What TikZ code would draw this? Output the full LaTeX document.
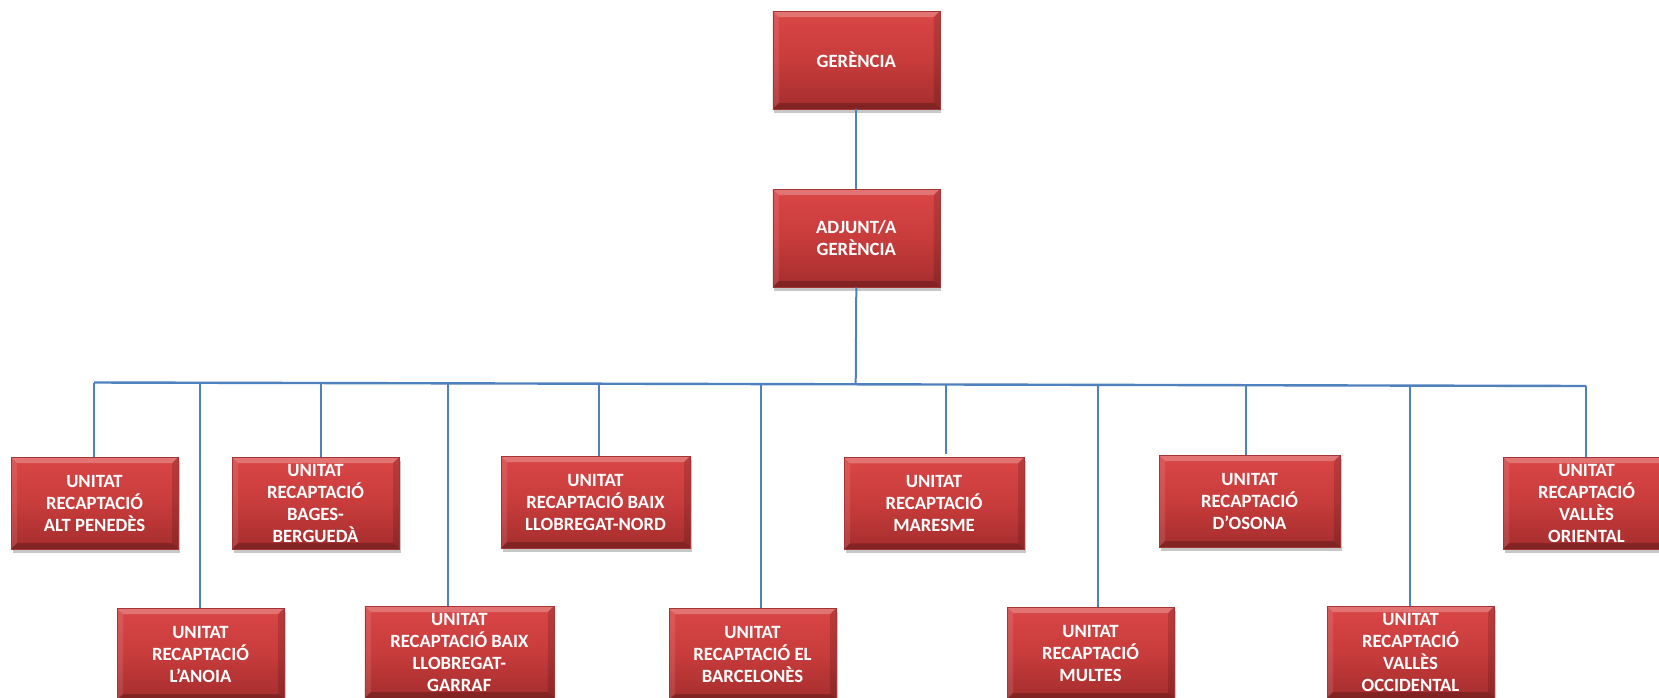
\documentclass[tikz,border=0pt]{standalone}
\usepackage{fontspec}
\setmainfont{Carlito}
\usetikzlibrary{shadows,calc}
\definecolor{boxtop}{HTML}{DA4646}
\definecolor{boxmid}{HTML}{C83C3C}
\definecolor{boxbot}{HTML}{A52D2D}
\definecolor{boxline}{HTML}{A33535}
\definecolor{conn}{HTML}{4F81BD}
\tikzset{
  bevel/.style={path picture={
    \fill[white,opacity=.25] (path picture bounding box.north west) -- (path picture bounding box.north east) -- ([shift={(-6pt,-6pt)}]path picture bounding box.north east) -- ([shift={(6pt,-6pt)}]path picture bounding box.north west) -- cycle;
    \fill[white,opacity=.10] (path picture bounding box.north west) -- ([shift={(6pt,-6pt)}]path picture bounding box.north west) -- ([shift={(6pt,6pt)}]path picture bounding box.south west) -- (path picture bounding box.south west) -- cycle;
    \fill[black,opacity=.14] (path picture bounding box.north east) -- ([shift={(-6pt,-6pt)}]path picture bounding box.north east) -- ([shift={(-6pt,6pt)}]path picture bounding box.south east) -- (path picture bounding box.south east) -- cycle;
    \fill[black,opacity=.22] (path picture bounding box.south west) -- (path picture bounding box.south east) -- ([shift={(-6pt,6pt)}]path picture bounding box.south east) -- ([shift={(6pt,6pt)}]path picture bounding box.south west) -- cycle;
  }},
  unitbox/.style={draw=boxline, line width=0.6pt, top color=boxtop, bottom color=boxbot, middle color=boxmid,
    text=white, font=\bfseries\fontsize{18.7}{22}\selectfont, align=center, inner sep=0pt,
    minimum width=167pt, minimum height=92pt,
    drop shadow={shadow xshift=1.5pt, shadow yshift=-4pt, opacity=.22, fill=black},
    bevel},
  link/.style={draw=conn, line width=2pt},
  bus/.style={draw=conn, line width=2.4pt}
}
\begin{document}
\begin{tikzpicture}[x=1pt,y=-1pt]
\useasboundingbox (0,0) rectangle (1659,697);
\clip (0,0) rectangle (1659,697);
% top
\node[unitbox, minimum height=98pt] (ger) at (856.3,60) {GERÈNCIA};
\node[unitbox, minimum height=98pt] (adj) at (856.3,238) {ADJUNT/A\\GERÈNCIA};
% upper row
\node[unitbox] (ap) at (94.5,503) {UNITAT\\RECAPTACIÓ\\ALT PENEDÈS};
\node[unitbox] (bb) at (315.5,503) {UNITAT\\RECAPTACIÓ\\BAGES-\\BERGUEDÀ};
\node[unitbox, minimum width=189pt] (bln) at (595.5,502) {UNITAT\\RECAPTACIÓ BAIX\\LLOBREGAT-NORD};
\node[unitbox, minimum width=180pt] (mar) at (934,503.3) {UNITAT\\RECAPTACIÓ\\MARESME};
\node[unitbox, minimum width=181pt] (oso) at (1249.5,501) {UNITAT\\RECAPTACIÓ\\D’OSONA};
\node[unitbox] (vor) at (1586.5,503) {UNITAT\\RECAPTACIÓ\\VALLÈS\\ORIENTAL};
% lower row
\node[unitbox] (an) at (200.5,654) {UNITAT\\RECAPTACIÓ\\L’ANOIA};
\node[unitbox, minimum width=189pt] (blg) at (459.3,652) {UNITAT\\RECAPTACIÓ BAIX\\LLOBREGAT-\\GARRAF};
\node[unitbox] (bcn) at (752.5,654) {UNITAT\\RECAPTACIÓ EL\\BARCELONÈS};
\node[unitbox] (mul) at (1090.5,653) {UNITAT\\RECAPTACIÓ\\MULTES};
\node[unitbox] (voc) at (1410.5,652) {UNITAT\\RECAPTACIÓ\\VALLÈS\\OCCIDENTAL};
% bus coordinates
\coordinate (busL) at (94,382.5);
\coordinate (busR) at (1586,386);
\coordinate (dm) at (855.7,384.3);
\coordinate (d1) at (94,382.5);
\coordinate (d2) at (200,382.75);
\coordinate (d3) at (321,383.0);
\coordinate (d4) at (447.7,383.3);
\coordinate (d5) at (598.7,383.7);
\coordinate (d6) at (760.7,384.1);
\coordinate (d7) at (946.3,384.5);
\coordinate (d8) at (1097.7,384.85);
\coordinate (d9) at (1246.3,385.2);
\coordinate (d10) at (1410,385.6);
\coordinate (d11) at (1586,386);
% connectors
\draw[link] (ger.south) -- (adj.north);
\draw[link] (adj.south) -- (dm);
\draw[bus] (busL) -- (busR);
\draw[link] (d1) -- (d1 |- ap.north);
\draw[link] (d2) -- (d2 |- an.north);
\draw[link] (d3) -- (d3 |- bb.north);
\draw[link] (d4) -- (d4 |- blg.north);
\draw[link] (d5) -- (d5 |- bln.north);
\draw[link] (d6) -- (d6 |- bcn.north);
\draw[link] (d7) -- ([yshift=3pt]d7 |- mar.north);
\draw[link] (d8) -- (d8 |- mul.north);
\draw[link] (d9) -- (d9 |- oso.north);
\draw[link] (d10) -- (d10 |- voc.north);
\draw[link] (d11) -- (d11 |- vor.north);
\end{tikzpicture}
\end{document}
